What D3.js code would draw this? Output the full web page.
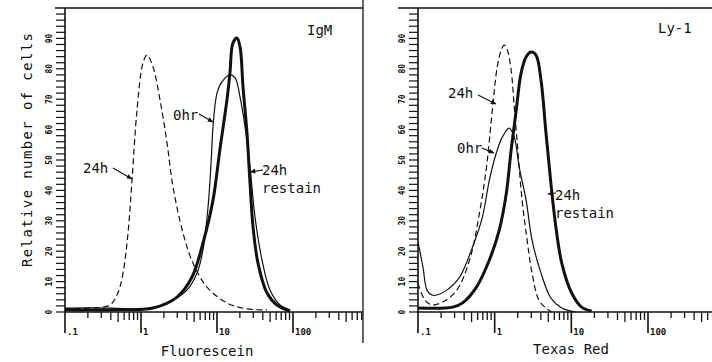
<!DOCTYPE html>
<html><head><meta charset="utf-8">
<script src="https://cdn.jsdelivr.net/npm/d3@7"></script>
<style>body{margin:0;background:#fff}svg{display:block}</style>
</head><body>
<svg id="c" width="712" height="362"></svg>
<script>
// ---- data ----
const xTickValues = [0.1, 1, 10, 100];
const xTickLabels = [".1", "1", "10", "100"];
const yTickValues = [0, 10, 20, 30, 40, 50, 60, 70, 80, 90];
const yTickLabels = ["0", "10", "20", "30", "40", "50", "60", "70", "80", "90"];

// IgM panel (Fluorescein intensity, relative count)
const igm24h = [[0.1,1.0],[0.2,1.3],[0.39,2.3],[0.5,6.5],[0.58,12.8],[0.675,26],[0.762,43.4],[0.886,66.4],[1.06,81.9],[1.2,84.5],[1.44,80.6],[1.78,69.7],[2.2,55.6],[2.64,41.1],[3.57,26],[4.83,16.1],[7.39,8.2],[13.5,3],[24.8,1],[45.5,0.7]];
const igm0hr = [[0.1,1.3],[0.4,1.3],[1.0,1.0],[1.62,1.6],[2.64,3.9],[4.03,7.2],[5.46,12.8],[6.54,20.4],[7.62,34.5],[8.4,50],[8.86,60.9],[10,72],[11.6,75.7],[14.8,78],[17.3,77],[20.1,70.7],[23.4,60.9],[27.2,47.7],[31.6,31.3],[39.1,17.1],[49.8,7.2],[67.5,2.3],[91.4,0.7]];
const igmRestain = [[0.1,0.7],[0.5,0.7],[1.44,1.3],[2.98,4.9],[4.69,11.5],[6.54,22.7],[8.86,36.8],[10.9,53.3],[13.5,69.7],[14.8,78.6],[16.2,88.5],[18.3,90.1],[20.1,87.2],[22,74],[24.8,58.9],[27.2,42.4],[29.8,28],[34.6,16.1],[45.5,6.25],[61.5,2.3],[91.4,0.3]];

// Ly-1 panel (Texas Red intensity, relative count)
const ly24h = [[0.1,9.5],[0.123,3.9],[0.152,2.3],[0.21,3.3],[0.32,7.2],[0.471,17.1],[0.634,32.6],[0.782,47.7],[0.933,66.4],[1.08,80.6],[1.22,86.2],[1.33,87.8],[1.46,86.2],[1.64,79.6],[1.8,67.4],[1.97,55.6],[2.28,36.8],[2.65,23.7],[3.07,12.8],[3.78,3.9],[4.67,1.3],[5.57,0]];
const ly0hr = [[0.1,23],[0.116,14.8],[0.131,7.2],[0.152,5.6],[0.176,5.6],[0.237,7.2],[0.349,11.5],[0.515,21.4],[0.693,31.3],[0.853,43.4],[1.05,52.3],[1.26,57.6],[1.55,60.5],[1.8,57.6],[2.09,47.7],[2.57,36.8],[3.07,23.7],[4.02,12.8],[5.41,4.6],[7.5,1.3],[11.4,0]];
const lyRestain = [[0.1,1.3],[0.284,1.6],[0.382,3],[0.579,8.2],[0.853,17.1],[1.15,27],[1.42,39.1],[1.64,53.3],[1.91,66.4],[2.21,78.6],[2.57,83.9],[2.98,85.5],[3.46,84.5],[4.02,76.3],[4.67,58.9],[5.41,42.4],[6.28,28],[7.5,16.1],[10.1,6.25],[13.6,1.6],[18.4,0.3]];

// ---- drawing ----
const FONT = "'DejaVu Sans Mono', monospace";
const INK = "#111";
const svg = d3.select("#c");
svg.append("rect").attr("width",712).attr("height",362).attr("fill","#fff");
svg.append("defs").append("marker").attr("id","ah")
  .attr("viewBox","0 0 10 10").attr("refX",9).attr("refY",5)
  .attr("markerWidth",6).attr("markerHeight",6).attr("markerUnits","userSpaceOnUse")
  .attr("orient","auto").append("path").attr("d","M0,1L10,5L0,9Z").attr("fill",INK);

function drawPanel(cfg) {
  const x = d3.scaleLog().domain([0.1,100]).range(cfg.xr);
  const y = d3.scaleLinear().domain([0,100]).range([312,8]);
  const g = svg.append("g");
  const x0 = cfg.xr[0];
  // top line
  g.append("line").attr("x1",cfg.topStart).attr("x2",cfg.xEnd).attr("y1",8).attr("y2",8)
    .attr("stroke",INK).attr("stroke-width",1.5);
  // y axis line (extends down as major tick)
  g.append("line").attr("x1",x0).attr("x2",x0).attr("y1",8).attr("y2",333)
    .attr("stroke",INK).attr("stroke-width",1.6);
  // x axis line
  g.append("line").attr("x1",x0).attr("x2",cfg.xEnd).attr("y1",312).attr("y2",312)
    .attr("stroke",INK).attr("stroke-width",1.6);
  // y minor ticks
  d3.range(0,100,2).forEach(v => {
    g.append("line").attr("x1",x0-9).attr("x2",x0).attr("y1",y(v)).attr("y2",y(v))
      .attr("stroke",INK).attr("stroke-width",1.2);
  });
  // y labels (rotated)
  yTickValues.forEach((v,i) => {
    g.append("text").attr("transform",`translate(${x0-13},${y(v)}) rotate(-90)`)
      .attr("text-anchor","middle").attr("font-family",FONT).attr("font-weight","bold")
      .attr("font-size",8).attr("fill",INK).text(yTickLabels[i]);
  });
  // x ticks
  const xMax = x.invert(cfg.xEnd);
  xTickValues.forEach((d,i) => {
    if (i>0) g.append("line").attr("x1",x(d)).attr("x2",x(d)).attr("y1",312).attr("y2",333)
      .attr("stroke",INK).attr("stroke-width",1.6);
    g.append("text").attr("x",x(d)+2).attr("y",335).attr("font-family",FONT)
      .attr("font-weight","bold").attr("font-size",9).attr("fill",INK).text(xTickLabels[i]);
    for (let m=2; m<=9; m++) {
      const v = d*m;
      if (v > xMax) break;
      const len = m===5 ? 10 : (m<=3 ? 6 : 8);
      g.append("line").attr("x1",x(v)).attr("x2",x(v)).attr("y1",312).attr("y2",312+len)
        .attr("stroke",INK).attr("stroke-width",1.3);
    }
  });
  // curves
  const line = d3.line().x(d=>x(d[0])).y(d=>y(d[1])).curve(d3.curveCatmullRom.alpha(0.5));
  cfg.series.forEach(s => {
    g.append("path").datum(s.data).attr("d",line).attr("fill","none")
      .attr("stroke",INK).attr("stroke-width",s.w)
      .attr("stroke-dasharray",s.dash || null).attr("stroke-linejoin","round");
  });
  // annotations
  cfg.notes.forEach(n => {
    n.lines.forEach((t,k) => {
      g.append("text").attr("x",n.x).attr("y",n.y + k*18).attr("font-family",FONT)
        .attr("font-size",14).attr("fill",INK).text(t);
    });
    if (n.arrow) {
      g.append("line").attr("x1",n.arrow[0]).attr("y1",n.arrow[1]).attr("x2",n.arrow[2]).attr("y2",n.arrow[3])
        .attr("stroke",INK).attr("stroke-width",1.1).attr("marker-end","url(#ah)");
    }
  });
  // axis title
  g.append("text").attr("x",cfg.titleX).attr("y",cfg.titleY).attr("text-anchor","middle")
    .attr("font-family",FONT).attr("font-size",14).attr("fill",INK).text(cfg.title);
}

drawPanel({
  xr:[65,293], xEnd:363, topStart:55, title:"Fluorescein", titleX:207, titleY:356,
  series:[{data:igm24h,w:1.2,dash:"6,3.5"},{data:igm0hr,w:1.2},{data:igmRestain,w:3}],
  notes:[
    {lines:["IgM"], x:307, y:35},
    {lines:["0hr"], x:173, y:120, arrow:[199,114,213,122]},
    {lines:["24h"], x:83, y:173, arrow:[113,168,132,179]},
    {lines:["24h","restain"], x:262, y:175, arrow:[263,170,250,172]}
  ]
});
drawPanel({
  xr:[418,648], xEnd:712, topStart:398, title:"Texas Red", titleX:571, titleY:354,
  series:[{data:ly24h,w:1.2,dash:"6,3.5"},{data:ly0hr,w:1.2},{data:lyRestain,w:3}],
  notes:[
    {lines:["Ly-1"], x:658, y:33},
    {lines:["24h"], x:448, y:98, arrow:[478,95,496,104]},
    {lines:["0hr"], x:457, y:153, arrow:[482,148,494,153]},
    {lines:["24h","restain"], x:555, y:200, arrow:[556,193,548,194]}
  ]
});
// left panel right border
svg.append("line").attr("x1",363).attr("x2",363).attr("y1",0).attr("y2",343)
  .attr("stroke",INK).attr("stroke-width",1.3);
// shared y title
svg.append("text").attr("transform","translate(32,150) rotate(-90)").attr("text-anchor","middle")
  .attr("font-family",FONT).attr("font-size",14).attr("fill",INK)
  .attr("textLength",234).attr("lengthAdjust","spacing").text("Relative number of cells");
</script>
</body></html>
